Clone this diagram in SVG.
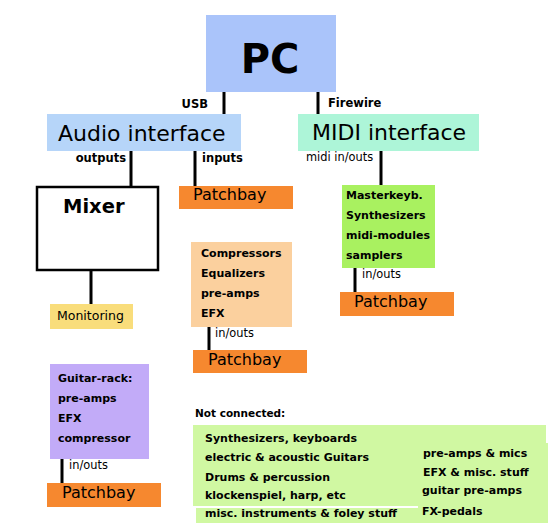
<svg xmlns="http://www.w3.org/2000/svg" width="560" height="531" viewBox="0 0 560 531">
<style>
text{font-family:"DejaVu Sans","Liberation Sans",sans-serif;fill:#000}
.big{font-size:22px}
.pb{font-size:16px}
.sm{font-size:11px;font-weight:bold}
.xs{font-size:11.4px}
.lbl{font-size:11.5px;font-weight:bold}
.patch{fill:#f6882f}
.conn line{stroke:#000;stroke-width:3}
</style>
<rect width="560" height="531" fill="#fff"/>
<g class="conn" id="connectors">
<line x1="224" y1="92" x2="224" y2="114"/>
<line x1="318" y1="92" x2="318" y2="114"/>
<line x1="131" y1="151" x2="131" y2="186"/>
<line x1="195" y1="151" x2="195" y2="186"/>
<line x1="381" y1="151" x2="381" y2="185"/>
<line x1="91" y1="271" x2="91" y2="304"/>
<line x1="209" y1="327" x2="209" y2="350"/>
<line x1="355" y1="268" x2="355" y2="292"/>
<line x1="62" y1="459" x2="62" y2="483"/>
</g>
<g id="labels">
<text class="lbl" x="208" y="108" text-anchor="end">USB</text>
<text class="lbl" x="328" y="107">Firewire</text>
<text class="lbl" x="126" y="162" text-anchor="end">outputs</text>
<text class="lbl" x="202" y="162">inputs</text>
<text class="xs" x="306" y="161">midi in/outs</text>
<text class="xs" x="215" y="337">in/outs</text>
<text class="xs" x="362" y="278">in/outs</text>
<text class="xs" x="69" y="469">in/outs</text>
</g>
<g id="pc">
<rect x="206" y="15" width="130" height="77" fill="#aac4fa"/>
<text x="270" y="73" text-anchor="middle" style="font-size:40px;font-weight:bold">PC</text>
</g>
<g id="audio-interface">
<rect x="47" y="114" width="194" height="37" fill="#b6d5f9"/>
<text class="big" x="58" y="141">Audio interface</text>
</g>
<g id="midi-interface">
<rect x="298" y="114" width="181" height="37" fill="#adf5d8"/>
<text class="big" x="312" y="140">MIDI interface</text>
</g>
<g id="mixer">
<rect x="37" y="187" width="121" height="83" fill="#fff" stroke="#000" stroke-width="2.5"/>
<text x="63" y="213" style="font-size:19.5px;font-weight:bold">Mixer</text>
</g>
<g id="monitoring">
<rect x="50" y="304" width="83" height="25" fill="#f9dd7b"/>
<text x="57" y="320" style="font-size:12.5px">Monitoring</text>
</g>
<g id="patchbay-inputs">
<rect class="patch" x="179" y="186" width="114" height="23"/>
<text class="pb" x="193" y="200">Patchbay</text>
</g>
<g id="processors">
<rect x="191" y="242" width="101" height="85" fill="#fbd09e"/>
<text class="sm" x="201" y="257">Compressors</text>
<text class="sm" x="201" y="277">Equalizers</text>
<text class="sm" x="201" y="297">pre-amps</text>
<text class="sm" x="201" y="317">EFX</text>
</g>
<g id="patchbay-processors">
<rect class="patch" x="193" y="350" width="114" height="23"/>
<text class="pb" x="208" y="365">Patchbay</text>
</g>
<g id="midi-devices">
<rect x="342" y="185" width="93" height="83" fill="#a9f160"/>
<text class="sm" x="346" y="199">Masterkeyb.</text>
<text class="sm" x="346" y="219">Synthesizers</text>
<text class="sm" x="346" y="239">midi-modules</text>
<text class="sm" x="346" y="259">samplers</text>
</g>
<g id="patchbay-midi">
<rect class="patch" x="340" y="292" width="114" height="24"/>
<text class="pb" x="354" y="307">Patchbay</text>
</g>
<g id="guitar-rack">
<rect x="50" y="364" width="99" height="95" fill="#c2abf8"/>
<text class="sm" x="58" y="382">Guitar-rack:</text>
<text class="sm" x="58" y="402">pre-amps</text>
<text class="sm" x="58" y="422">EFX</text>
<text class="sm" x="58" y="442">compressor</text>
</g>
<g id="patchbay-guitar">
<rect class="patch" x="47" y="483" width="114" height="24"/>
<text class="pb" x="62" y="498">Patchbay</text>
</g>
<g id="not-connected">
<text x="195" y="417" style="font-size:10.5px;font-weight:bold">Not connected:</text>
<rect x="193" y="425" width="353" height="81" fill="#d0f8a2"/>
<rect x="196" y="508" width="352" height="15" fill="#d0f8a2"/>
<rect x="418" y="443" width="130" height="80" fill="#d0f8a2"/>
<text class="sm" x="205" y="442">Synthesizers, keyboards</text>
<text class="sm" x="205" y="461">electric &amp; acoustic Guitars</text>
<text class="sm" x="205" y="481">Drums &amp; percussion</text>
<text class="sm" x="205" y="499">klockenspiel, harp, etc</text>
<text class="sm" x="205" y="517">misc. instruments &amp; foley stuff</text>
<text class="sm" x="423" y="457">pre-amps &amp; mics</text>
<text class="sm" x="423" y="476">EFX &amp; misc. stuff</text>
<text class="sm" x="422" y="494">guitar pre-amps</text>
<text class="sm" x="422" y="515">FX-pedals</text>
</g>
</svg>
